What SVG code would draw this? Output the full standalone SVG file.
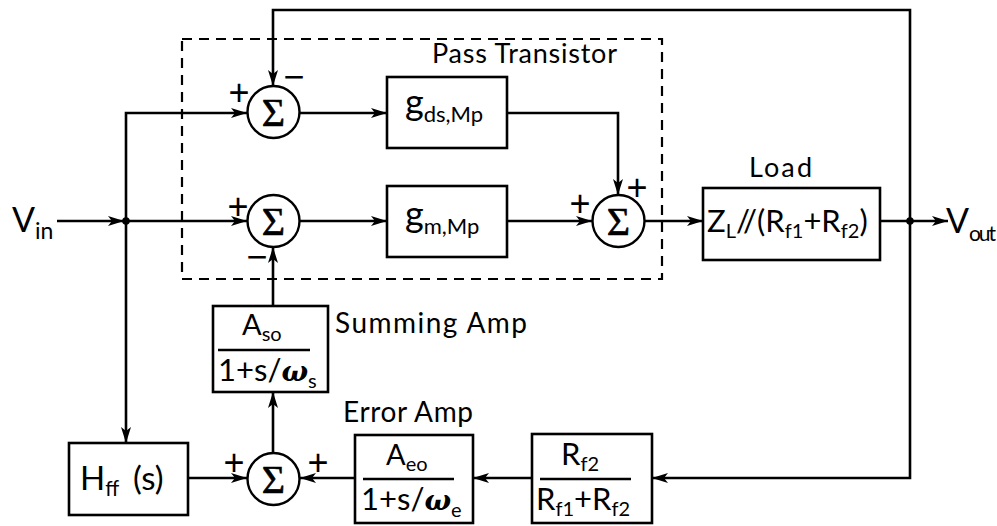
<svg xmlns="http://www.w3.org/2000/svg" width="997" height="526" viewBox="0 0 997 526">
<style>
.ln{fill:none;stroke:#000;stroke-width:2.6}
.bx{fill:#fff;stroke:#000;stroke-width:2.6}
.ci{fill:#fff;stroke:#000;stroke-width:2.4}
.t{font-family:Lato,"Liberation Sans",sans-serif;fill:#000}
.sg{font-family:"Liberation Serif",serif;font-size:40px;text-anchor:middle;fill:#000;stroke:#000;stroke-width:0.6}
.pm{font-family:"Liberation Sans",sans-serif;font-size:36px;text-anchor:middle;fill:#000}
.w{font-family:"DejaVu Serif",serif;font-style:italic;font-weight:bold}
</style>
<defs>
<marker id="ah" viewBox="0 0 16 10" refX="16" refY="5" markerWidth="16" markerHeight="10" markerUnits="userSpaceOnUse" orient="auto">
<path d="M0,0 L16,5 L0,10 L4,5 Z" fill="#000"/>
</marker>
</defs>
<rect width="997" height="526" fill="#fff"/>
<g id="pass-transistor-frame">
<rect x="182" y="39" width="480" height="240" fill="none" stroke="#000" stroke-width="2.2" stroke-dasharray="10,7"/>
<text class="t" x="432" y="63" font-size="27" textLength="185">Pass Transistor</text>
</g>
<g id="connectors">
<path class="ln" d="M57,221 H124" marker-end="url(#ah)"/>
<path class="ln" d="M126,221 H247" marker-end="url(#ah)"/>
<path class="ln" d="M126,221 V443" marker-end="url(#ah)"/>
<path class="ln" d="M126,221 V113 H247" marker-end="url(#ah)"/>
<path class="ln" d="M300,113 H387" marker-end="url(#ah)"/>
<path class="ln" d="M300,221 H387" marker-end="url(#ah)"/>
<path class="ln" d="M507,113 H618 V195" marker-end="url(#ah)"/>
<path class="ln" d="M507,221 H592" marker-end="url(#ah)"/>
<path class="ln" d="M645,221 H703" marker-end="url(#ah)"/>
<path class="ln" d="M880,221 H948" marker-end="url(#ah)"/>
<path class="ln" d="M910,221 V10 H273 V86" marker-end="url(#ah)"/>
<path class="ln" d="M910,221 V478 H652" marker-end="url(#ah)"/>
<path class="ln" d="M532,478 H473" marker-end="url(#ah)"/>
<path class="ln" d="M355,478 H300" marker-end="url(#ah)"/>
<path class="ln" d="M188,478 H247" marker-end="url(#ah)"/>
<path class="ln" d="M273,453 V392" marker-end="url(#ah)"/>
<path class="ln" d="M273,306 V247" marker-end="url(#ah)"/>
<circle cx="126" cy="221" r="3.8" fill="#000"/>
<circle cx="910" cy="221" r="3.8" fill="#000"/>
</g>
<g id="vin">
<text class="t" x="12" y="232" font-size="34">V<tspan font-size="23" dy="7">in</tspan></text>
</g>
<g id="vout">
<text class="t" x="946" y="233" font-size="34">V<tspan font-size="21" dy="8" textLength="27">out</tspan></text>
</g>
<g id="sum1">
<circle class="ci" cx="273.5" cy="112" r="26"/>
<text class="sg" x="273.5" y="126">Σ</text>
<text class="pm" x="239" y="105">+</text>
<text class="pm" x="294" y="89">−</text>
</g>
<g id="sum2">
<circle class="ci" cx="273.5" cy="221" r="26"/>
<text class="sg" x="273.5" y="235">Σ</text>
<text class="pm" x="238" y="219">+</text>
<text class="pm" x="257" y="269">−</text>
</g>
<g id="sum3">
<circle class="ci" cx="618.5" cy="221" r="26"/>
<text class="sg" x="618.5" y="235">Σ</text>
<text class="pm" x="580" y="216">+</text>
<text class="pm" x="637" y="200">+</text>
</g>
<g id="sum4">
<circle class="ci" cx="273.5" cy="479" r="26"/>
<text class="sg" x="273.5" y="493">Σ</text>
<text class="pm" x="234" y="475">+</text>
<text class="pm" x="318" y="475">+</text>
</g>
<g id="gds">
<rect class="bx" x="387" y="77" width="120" height="71"/>
<text class="t" x="405" y="115" font-size="36">g<tspan font-size="22" dy="7">ds,Mp</tspan></text>
</g>
<g id="gm">
<rect class="bx" x="387" y="186" width="120" height="71"/>
<text class="t" x="405" y="227" font-size="36">g<tspan font-size="22" dy="7">m,Mp</tspan></text>
</g>
<g id="load">
<rect class="bx" x="703" y="188" width="177" height="72"/>
<text class="t" x="749" y="177" font-size="27" textLength="63">Load</text>
<text class="t" x="707" y="232" font-size="31">Z<tspan font-size="20" dy="6">L</tspan><tspan dy="-6">//(R</tspan><tspan font-size="20" dy="6">f1</tspan><tspan dy="-6">+R</tspan><tspan font-size="20" dy="6">f2</tspan><tspan dy="-6">)</tspan></text>
</g>
<g id="summing-amp">
<rect class="bx" x="213" y="306" width="115" height="86"/>
<text class="t" x="242" y="335" font-size="29">A<tspan font-size="20" dy="6">so</tspan></text>
<line x1="218" y1="350" x2="310" y2="350" stroke="#000" stroke-width="2.4"/>
<text class="t" x="218" y="381" font-size="31">1+s/<tspan class="w" font-size="28">ω</tspan><tspan font-size="20" dy="7">s</tspan></text>
<text class="t" x="335" y="333" font-size="28" textLength="192">Summing Amp</text>
</g>
<g id="error-amp">
<rect class="bx" x="355" y="435" width="118" height="88"/>
<text class="t" x="386" y="465" font-size="29">A<tspan font-size="20" dy="6">eo</tspan></text>
<line x1="363" y1="479" x2="454" y2="479" stroke="#000" stroke-width="2.4"/>
<text class="t" x="361" y="510" font-size="31">1+s/<tspan class="w" font-size="28">ω</tspan><tspan font-size="20" dy="7">e</tspan></text>
<text class="t" x="343" y="422" font-size="28" textLength="130">Error Amp</text>
</g>
<g id="divider">
<rect class="bx" x="532" y="434" width="120" height="89"/>
<text class="t" x="561" y="465" font-size="31">R<tspan font-size="20" dy="6">f2</tspan></text>
<line x1="540" y1="479" x2="631" y2="479" stroke="#000" stroke-width="2.4"/>
<text class="t" x="536" y="510" font-size="31">R<tspan font-size="20" dy="6">f1</tspan><tspan dy="-6">+R</tspan><tspan font-size="20" dy="6">f2</tspan></text>
</g>
<g id="hff">
<rect class="bx" x="69" y="443" width="119" height="72"/>
<text class="t" x="80" y="490" font-size="33">H<tspan font-size="21" dy="6">ff</tspan><tspan dy="-6" x="133">(s)</tspan></text>
</g>
</svg>
